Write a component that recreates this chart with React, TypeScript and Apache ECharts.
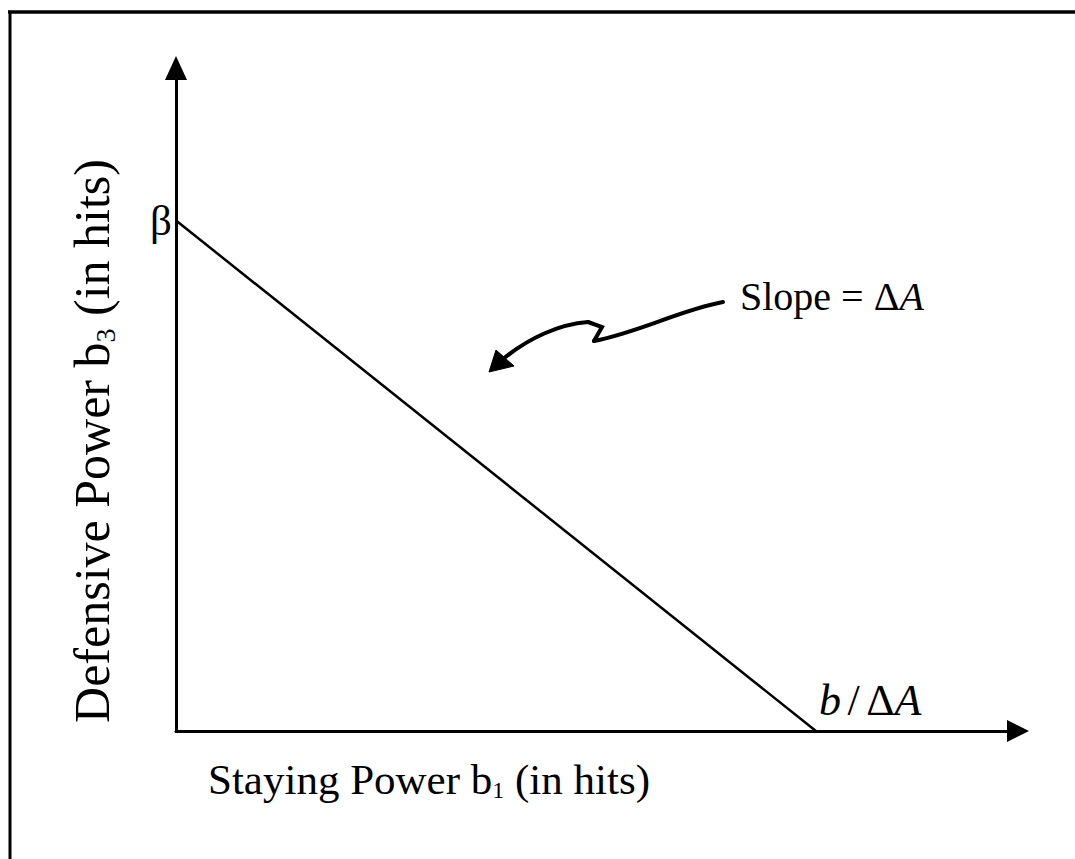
import React, { useEffect, useRef } from "react";
import * as echarts from "echarts";

// ---- data ----
const xRange = [0, 10];
const yRange = [0, 10];
const beta = 7.7; // y-intercept (β)
const bOverDeltaA = 7.6; // x-intercept (b/ΔA)
const lineXs = [0, bOverDeltaA];
const lineYs = [beta, 0];
const xTitle = ["Staying Power b", "1", " (in hits)"];
const yTitle = ["Defensive Power b", "3", " (in hits)"];
const slopeText = ["Slope = Δ", "A"];

const FONT = "Liberation Serif";

export default function App() {
  const ref = useRef<HTMLDivElement>(null);

  useEffect(() => {
    if (!ref.current) return;
    const chart = echarts.init(ref.current, null, { renderer: "svg" });

    const points = lineXs.map((x, i) => [x, lineYs[i]]);
    const data = [
      {
        value: points[0],
        label: {
          show: true,
          formatter: "β",
          position: "left",
          distance: 4,
          fontFamily: FONT,
          fontSize: 43,
          color: "#000",
        },
      },
      {
        value: points[1],
        label: {
          show: true,
          formatter: "{i|b}{sp| }{n|/}{sp| }{n|Δ}{i|A}",
          position: "right",
          distance: 3,
          offset: [0, -31],
          rich: {
            i: { fontFamily: FONT, fontStyle: "italic", fontSize: 44, color: "#000" },
            n: { fontFamily: FONT, fontSize: 44, color: "#000" },
            sp: { fontFamily: FONT, fontSize: 26, color: "#000" },
          },
        },
      },
    ];

    const axisCommon = {
      type: "value",
      axisTick: { show: false },
      axisLabel: { show: false },
      splitLine: { show: false },
    };

    chart.setOption({
      animation: false,
      backgroundColor: "#fff",
      grid: { left: 176, right: 57, top: 68, bottom: 128, containLabel: false },
      xAxis: {
        ...axisCommon,
        min: xRange[0],
        max: xRange[1],
        axisLine: {
          show: true,
          onZero: false,
          symbol: ["none", "triangle"],
          symbolSize: [22, 22],
          lineStyle: { color: "#000", width: 3 },
        },
      },
      yAxis: {
        ...axisCommon,
        min: yRange[0],
        max: yRange[1],
        axisLine: {
          show: true,
          onZero: false,
          symbol: ["none", "triangle"],
          symbolSize: [22, 24],
          lineStyle: { color: "#000", width: 3 },
        },
      },
      series: [
        {
          type: "line",
          data,
          symbol: "circle",
          symbolSize: 0,
          showSymbol: true,
          lineStyle: { color: "#000", width: 2.5 },
          itemStyle: { color: "#000" },
          silent: true,
        },
      ],
      graphic: [
        // frame
        { type: "line", shape: { x1: 8, y1: 12, x2: 1075, y2: 12 }, style: { stroke: "#000", lineWidth: 3.5 } },
        { type: "line", shape: { x1: 10, y1: 11, x2: 10, y2: 859 }, style: { stroke: "#000", lineWidth: 3 } },
        // x title
        {
          type: "text",
          x: 208,
          y: 779,
          style: {
            text: `{a|${xTitle[0]}}{s|${xTitle[1]}}{a|${xTitle[2]}}`,
            align: "left",
            verticalAlign: "middle",
            rich: {
              a: { fontFamily: FONT, fontSize: 43, lineHeight: 46, fill: "#000" },
              s: { fontFamily: FONT, fontSize: 24, lineHeight: 24, verticalAlign: "bottom", fill: "#000" },
            },
          },
        },
        // y title
        {
          type: "text",
          x: 92,
          y: 441,
          rotation: Math.PI / 2,
          style: {
            text: `{a|${yTitle[0]}}{s|${yTitle[1]}}{a|${yTitle[2]}}`,
            align: "center",
            verticalAlign: "middle",
            rich: {
              a: { fontFamily: FONT, fontSize: 50, lineHeight: 54, fill: "#000" },
              s: { fontFamily: FONT, fontSize: 28, lineHeight: 28, verticalAlign: "bottom", fill: "#000" },
            },
          },
        },
        // slope label
        {
          type: "text",
          x: 740,
          y: 296,
          style: {
            text: `{n|${slopeText[0]}}{i|${slopeText[1]}}`,
            align: "left",
            verticalAlign: "middle",
            rich: {
              n: { fontFamily: FONT, fontSize: 40, fill: "#000" },
              i: { fontFamily: FONT, fontSize: 40, fontStyle: "italic", fill: "#000" },
            },
          },
        },
        // curved arrow: right part
        {
          type: "bezierCurve",
          shape: { x1: 723, y1: 302, cpx1: 680, cpy1: 310, cpx2: 640, cpy2: 332, x2: 594, y2: 341 },
          style: { stroke: "#000", lineWidth: 4, fill: null, lineCap: "round" },
        },
        // zig
        {
          type: "polyline",
          shape: { points: [[594, 341], [602, 327], [588, 322]] },
          style: { stroke: "#000", lineWidth: 4, fill: null, lineJoin: "miter", lineCap: "round" },
        },
        // left part
        {
          type: "bezierCurve",
          shape: { x1: 588, y1: 322, cpx1: 560, cpy1: 324, cpx2: 528, cpy2: 338, x2: 502, y2: 360 },
          style: { stroke: "#000", lineWidth: 4, fill: null, lineCap: "round" },
        },
        // arrow head
        {
          type: "polygon",
          shape: { points: [[489, 372], [496, 350], [514, 366]] },
          style: { fill: "#000", stroke: "#000", lineWidth: 1 },
        },
      ],
    });

    return () => chart.dispose();
  }, []);

  return (
    <div
      ref={ref}
      style={{ position: "fixed", left: 0, top: 0, width: 1075, height: 859, background: "#fff" }}
    />
  );
}
